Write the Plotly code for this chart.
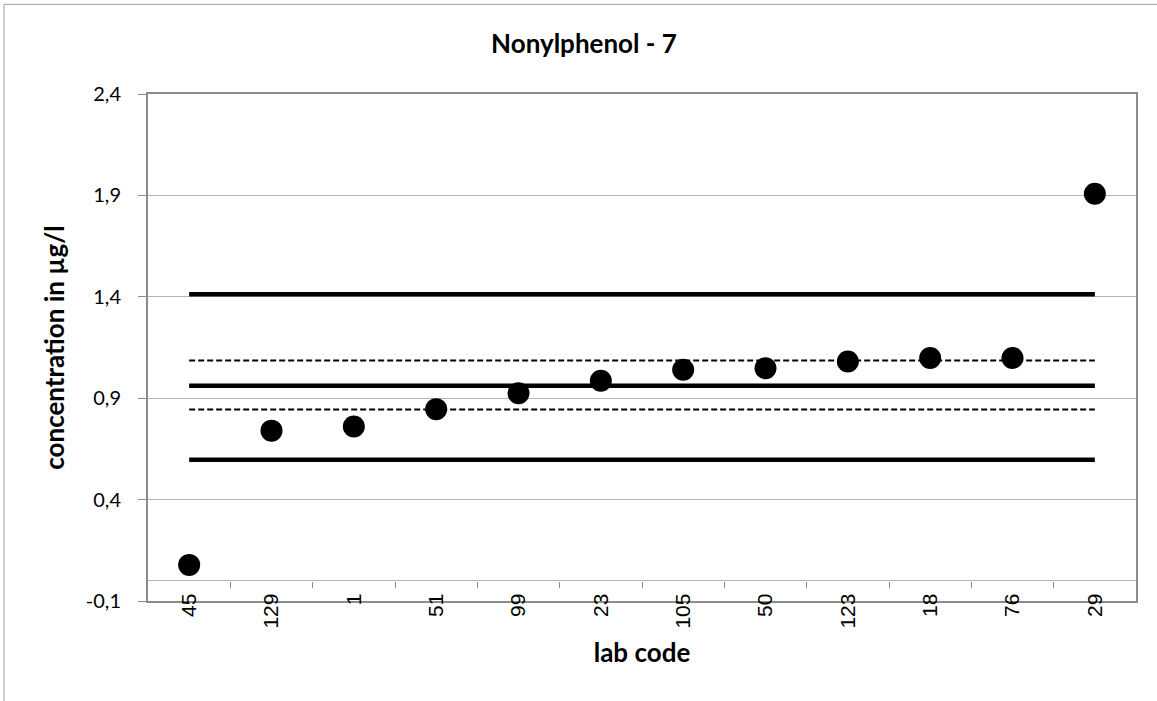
import plotly.graph_objects as go

# ── Data ──────────────────────────────────────────────────────────────────────
LAB_CODES = ["45", "129", "1", "51", "99", "23", "105", "50", "123", "18", "76", "29"]
CONCENTRATIONS = [0.078, 0.740, 0.760, 0.846, 0.925, 0.986, 1.040, 1.048, 1.081, 1.098, 1.098, 1.908]

ASSIGNED_VALUE = 0.962
TOLERANCE_UPPER = 1.413
TOLERANCE_LOWER = 0.596
UNCERTAINTY_UPPER = 1.086
UNCERTAINTY_LOWER = 0.844

Y_TICKS = [-0.1, 0.4, 0.9, 1.4, 1.9, 2.4]
Y_TICK_TEXT = ["-0,1", "0,4", "0,9", "1,4", "1,9", "2,4"]

# ── Styling ───────────────────────────────────────────────────────────────────
AXIS_GREY = "#8c8c8c"
GRID_GREY = "#b4b4b4"
TEXT = "#000000"
LABEL_FONT = "Lato, 'Open Sans', sans-serif"
TICK_FONT = "'Liberation Sans', Arial, sans-serif"

idx = list(range(len(LAB_CODES)))
x_range = [-0.5, len(idx) - 0.5]

fig = go.Figure()

# reference lines across all labs
for value, width, dash in [
    (TOLERANCE_UPPER, 4.5, "solid"),
    (ASSIGNED_VALUE, 4.5, "solid"),
    (TOLERANCE_LOWER, 4.5, "solid"),
    (UNCERTAINTY_UPPER, 2, "6px,3px"),
    (UNCERTAINTY_LOWER, 2, "6px,3px"),
]:
    fig.add_trace(go.Scatter(
        x=idx, y=[value] * len(idx), mode="lines",
        line=dict(color="black", width=width, dash=dash),
        hoverinfo="skip", showlegend=False,
    ))

# lab results
fig.add_trace(go.Scatter(
    x=idx, y=CONCENTRATIONS, mode="markers",
    marker=dict(color="black", size=22),
    customdata=LAB_CODES,
    hovertemplate="lab %{customdata}<br>%{y:.3f} µg/l<extra></extra>",
    showlegend=False,
))

# invisible traces carrying the extra x axes (boundary ticks at y=0, labels)
for ax in ("x2", "x3"):
    fig.add_trace(go.Scatter(
        x=idx, y=CONCENTRATIONS, xaxis=ax, mode="markers",
        marker=dict(opacity=0), hoverinfo="skip", showlegend=False,
    ))

fig.update_layout(
    width=1157, height=701,
    plot_bgcolor="white", paper_bgcolor="white",
    separators=",.",
    margin=dict(l=148, r=21, t=94, b=100),
    title=dict(
        text="<b>Nonylphenol - 7</b>",
        font=dict(family=LABEL_FONT, size=26, color=TEXT),
        x=(584 - 148) / 988, xref="paper", xanchor="center",
        y=1 - 44 / 701, yanchor="middle",
    ),
    # frame line at the bottom / top
    xaxis=dict(
        range=x_range, showticklabels=False, ticks="",
        showgrid=False, zeroline=False,
        showline=True, linecolor=AXIS_GREY, linewidth=2, mirror=True,
    ),
    # small ticks between labs, sitting on the zero line
    xaxis2=dict(
        overlaying="x", anchor="free", position=0.1 / 2.5,
        range=x_range, tickvals=[i + 0.5 for i in idx[:-1]],
        ticks="outside", ticklen=6, tickcolor=AXIS_GREY, tickwidth=1,
        showticklabels=False, showgrid=False, zeroline=False, showline=False,
    ),
    # lab code labels, tucked up against the bottom frame
    xaxis3=dict(
        overlaying="x", anchor="free", position=0.025,
        range=x_range, tickvals=idx, ticktext=LAB_CODES, tickangle=-90,
        ticks="", showgrid=False, zeroline=False, showline=False,
        tickfont=dict(family=TICK_FONT, size=21, color=TEXT),
        ticklabelstandoff=0,
        title=dict(text="<b>lab code</b>", standoff=16,
                   font=dict(family=LABEL_FONT, size=26, color=TEXT)),
    ),
    yaxis=dict(
        range=[-0.1, 2.4], tickvals=Y_TICKS, ticktext=Y_TICK_TEXT,
        ticks="outside", ticklen=8, tickcolor=AXIS_GREY, tickwidth=1,
        showgrid=True, gridcolor=GRID_GREY, gridwidth=1,
        zeroline=True, zerolinecolor=GRID_GREY, zerolinewidth=1,
        showline=True, linecolor=AXIS_GREY, linewidth=2, mirror=True,
        tickfont=dict(family=LABEL_FONT, size=20, color=TEXT),
        ticklabelstandoff=13,
        title=dict(text="<b>concentration in µg/l</b>", standoff=14,
                   font=dict(family=LABEL_FONT, size=26, color=TEXT)),
    ),
    shapes=[dict(
        type="rect", xref="paper", yref="paper",
        x0=(4 - 148) / 988, x1=1.2, y0=-0.4, y1=1 + (94.3 - 4.7) / 506.7,
        line=dict(color="#a0a0a0", width=1), layer="below",
    )],
)

# the page's default body margin would shift the chart by 8px
fig.write_html(
    "out.html",
    config={"displayModeBar": False},
    post_script="document.body.style.margin = '0';",
)
